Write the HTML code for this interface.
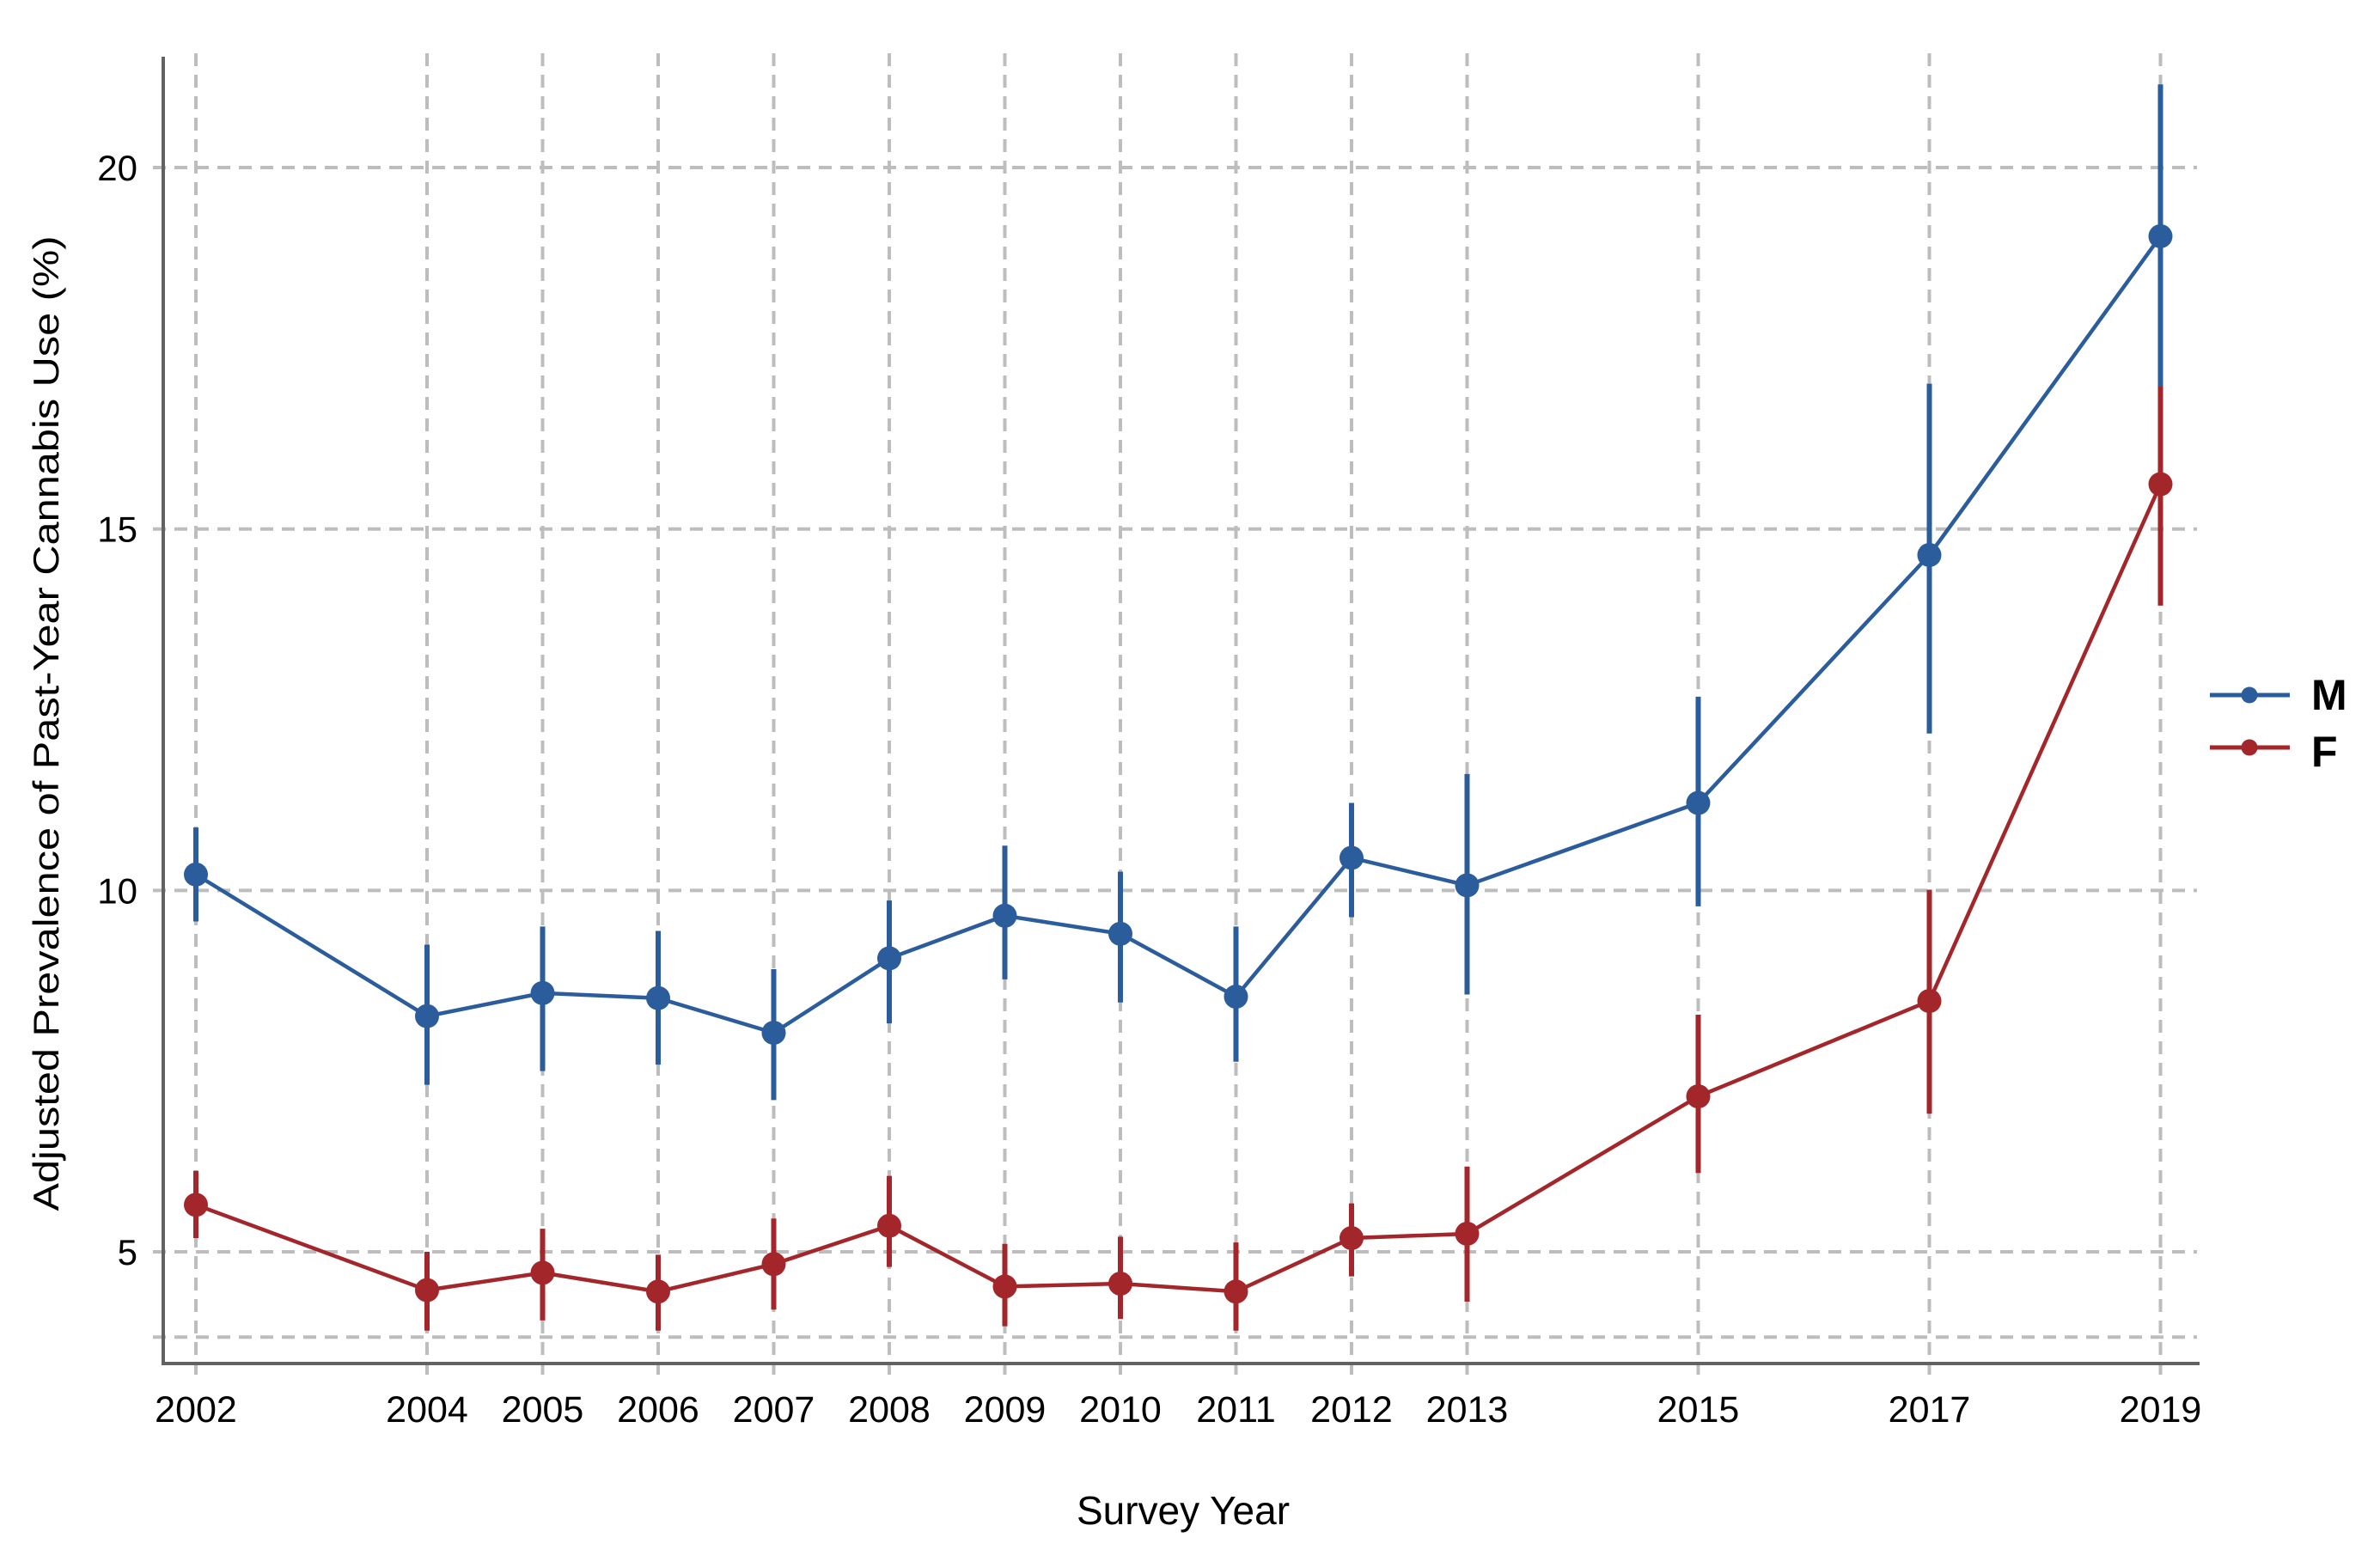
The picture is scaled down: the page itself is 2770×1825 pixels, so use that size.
<!DOCTYPE html>
<html><head><meta charset="utf-8"><style>
html,body{margin:0;padding:0;background:#fff;}
svg{display:block;}
text{font-family:"Liberation Sans",sans-serif;fill:#000;}
</style></head><body>
<svg id="s" width="2770" height="1825" viewBox="0 0 2770 1825" xmlns="http://www.w3.org/2000/svg">
<g id="grid" stroke="#bdbdbd" stroke-width="4" stroke-dasharray="15 10" fill="none"></g>
<line x1="190" y1="66" x2="190" y2="1589" stroke="#626262" stroke-width="4"/>
<line x1="188" y1="1587" x2="2560" y2="1587" stroke="#626262" stroke-width="4"/>
<g id="ylab" font-size="42" text-anchor="end"></g>
<g id="xlab" font-size="43" text-anchor="middle"></g>
<g id="series"></g>
<text x="1377" y="1774" font-size="46" text-anchor="middle">Survey Year</text>
<text transform="translate(68,842) rotate(-90)" font-size="42" text-anchor="middle" textLength="1135" lengthAdjust="spacingAndGlyphs">Adjusted Prevalence of Past-Year Cannabis Use (%)</text>
<line x1="2572" y1="809" x2="2665" y2="809" stroke="#2B5C9B" stroke-width="5"/>
<circle cx="2618" cy="809" r="9.5" fill="#2B5C9B"/>
<line x1="2572" y1="870" x2="2665" y2="870" stroke="#A3262A" stroke-width="5"/>
<circle cx="2618" cy="870" r="9.5" fill="#A3262A"/>
<text x="2690" y="826" font-size="50" font-weight="bold">M</text>
<text x="2690" y="892" font-size="50" font-weight="bold">F</text>
</svg>
<script>
var NS="http://www.w3.org/2000/svg";
function el(p,t,a,txt){var e=document.createElementNS(NS,t);for(var k in a)e.setAttribute(k,a[k]);if(txt)e.textContent=txt;p.appendChild(e);return e;}
function X(y){return 228+(y-2002)*134.5;}
function Y(v){return 1457-(v-5)*84.13;}
var years=[2002,2004,2005,2006,2007,2008,2009,2010,2011,2012,2013,2015,2017,2019];
var g=document.getElementById('grid');
years.forEach(function(y){el(g,'line',{x1:X(y),y1:62,x2:X(y),y2:1600});});
[3.82,5,10,15,20].forEach(function(v){el(g,'line',{x1:178,y1:Y(v),x2:2557,y2:Y(v)});});
var yl=document.getElementById('ylab');
[5,10,15,20].forEach(function(v){el(yl,'text',{x:160,y:Y(v)+15},String(v));});
var xl=document.getElementById('xlab');
years.forEach(function(y){el(xl,'text',{x:X(y),y:1655},String(y));});
var M=[[10.22,10.87,9.57],[8.26,9.25,7.31],[8.58,9.50,7.50],[8.51,9.44,7.59],[8.03,8.91,7.10],[9.06,9.86,8.16],[9.65,10.62,8.77],[9.40,10.26,8.45],[8.53,9.50,7.63],[10.45,11.21,9.63],[10.07,11.61,8.56],[11.21,12.68,9.78],[14.64,17.01,12.17],[19.05,21.15,16.97]];
var F=[[5.65,6.12,5.19],[4.47,5.0,3.91],[4.71,5.32,4.05],[4.45,4.96,3.91],[4.83,5.46,4.20],[5.36,6.05,4.79],[4.52,5.11,3.97],[4.56,5.21,4.07],[4.45,5.13,3.91],[5.19,5.67,4.66],[5.25,6.18,4.31],[7.15,8.28,6.09],[8.47,10.01,6.91],[15.62,16.97,13.94]];
var s=document.getElementById('series');
function draw(d,c){
  var pts=d.map(function(r,i){return X(years[i])+','+Y(r[0]);}).join(' ');
  d.forEach(function(r,i){el(s,'line',{x1:X(years[i]),y1:Y(r[1]),x2:X(years[i]),y2:Y(r[2]),stroke:c,'stroke-width':6});});
  el(s,'polyline',{points:pts,fill:'none',stroke:c,'stroke-width':4.5});
  d.forEach(function(r,i){el(s,'circle',{cx:X(years[i]),cy:Y(r[0]),r:14,fill:c});});
}
draw(F,'#A3262A');draw(M,'#2B5C9B');
</script>
</body></html>
